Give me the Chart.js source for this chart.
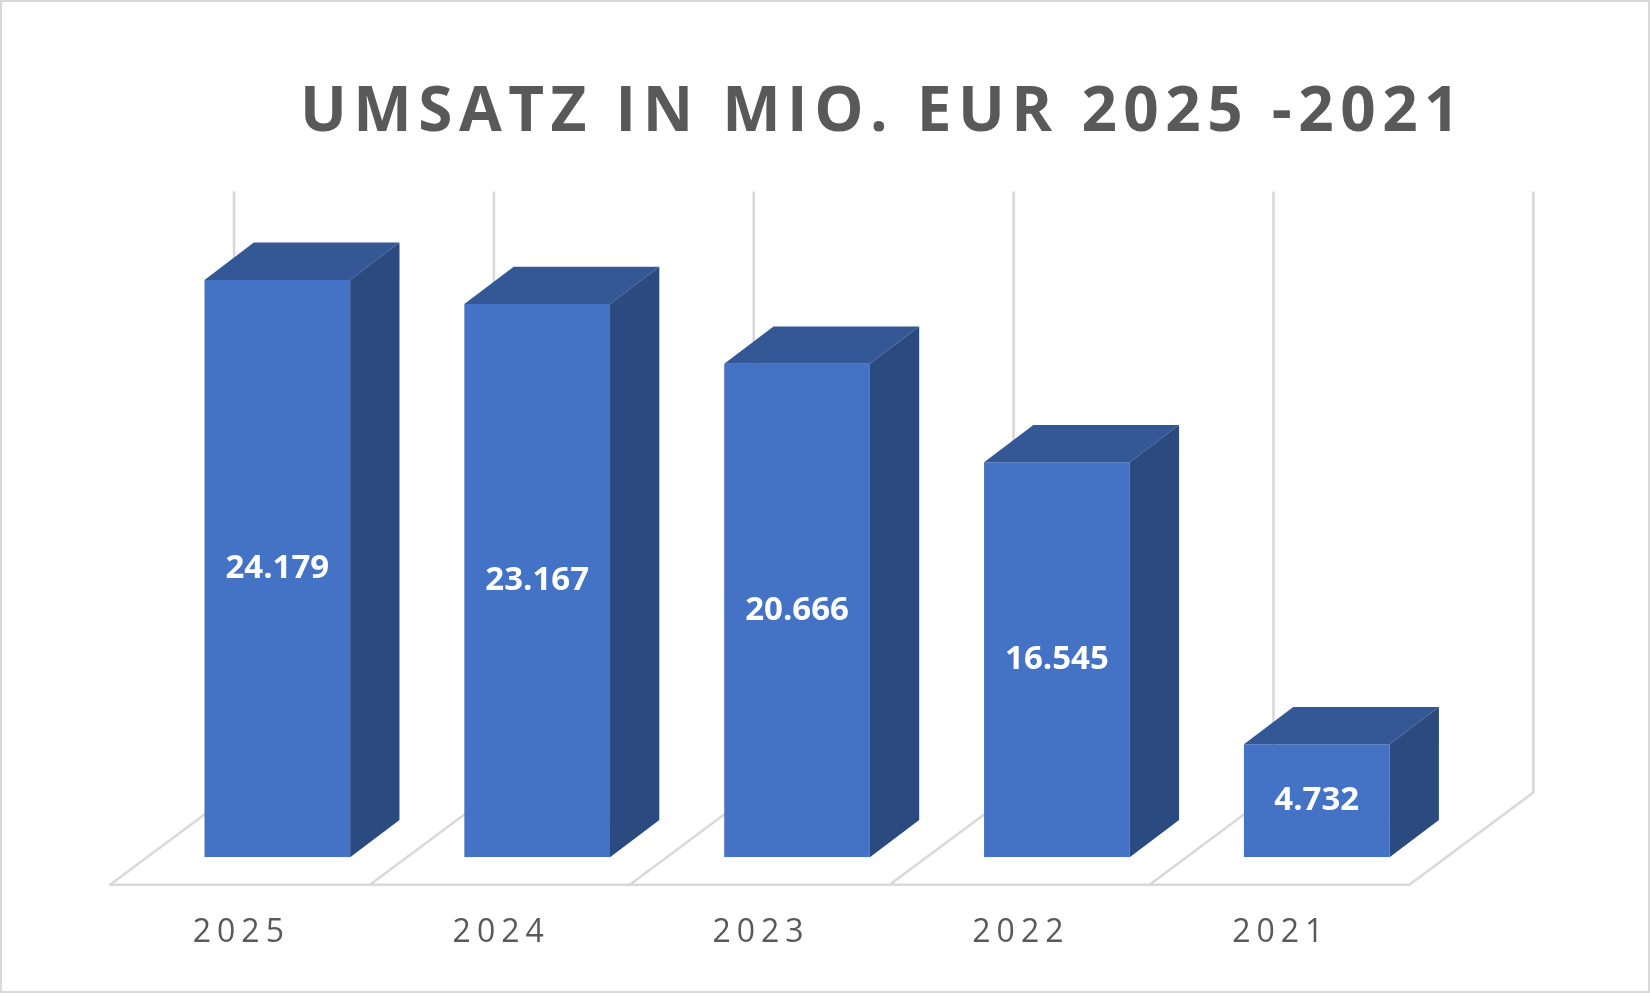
<!DOCTYPE html>
<html>
<head>
<meta charset="utf-8">
<title>Umsatz</title>
<script src="https://cdn.jsdelivr.net/npm/chart.js@4.4.1/dist/chart.umd.min.js"></script>
<style>
  html, body { margin: 0; padding: 0; background: #ffffff; }
  canvas { display: block; }
</style>
</head>
<body>
<canvas id="umsatzChart" width="1650" height="993"></canvas>
<script>
// chart data
var years = ["2025", "2024", "2023", "2022", "2021"];
var umsatz = [24.179, 23.167, 20.666, 16.545, 4.732];
var chartTitle = "UMSATZ IN MIO. EUR 2025 -2021";
var yMin = 0;
var yMax = 25;

// look of the fake 3d box (pixels)
var FLOOR_DX = 124, FLOOR_DY = -92.3;   // depth of the floor
var BAR_DX = 49.3, BAR_DY = -37.3;      // depth of one bar
var WALL_EXTRA = 3;
var LINE_COLOR = "#d9d9d9";
var TEXT_COLOR = "#595959";
var TITLE_CX = 883;

var depth3d = {
    id: "depth3d",
    afterLayout: function(chart) {
        // move the title a bit to the right like in excel
        var t = chart.titleBlock;
        if (t) {
            t.left = TITLE_CX - 800;
            t.right = TITLE_CX + 800;
        }
    },
    beforeDraw: function(chart) {
        var ctx = chart.ctx;
        ctx.save();
        ctx.strokeStyle = LINE_COLOR;
        ctx.lineWidth = 2;
        ctx.strokeRect(1, 1, chart.width - 2, chart.height - 2);
        ctx.restore();
        ctx.letterSpacing = "6.5px"; // title
    },
    beforeDatasetsDraw: function(chart) {
        var ctx = chart.ctx;
        var xs = chart.scales.x, ys = chart.scales.y;
        var n = chart.data.labels.length;
        var cw = (xs.right - xs.left) / n;
        var sx = (FLOOR_DX - BAR_DX) / 2, sy = (FLOOR_DY - BAR_DY) / 2;
        var fx0 = xs.left - sx;
        var fy = ys.getPixelForValue(yMin) - sy;
        var backTop = ys.getPixelForValue(yMax) - sy + FLOOR_DY - WALL_EXTRA;

        ctx.save();
        ctx.letterSpacing = "0px";
        ctx.strokeStyle = LINE_COLOR;
        ctx.lineWidth = 2.6;
        ctx.lineJoin = "round";
        ctx.lineCap = "round";
        ctx.beginPath();
        for (var k = 0; k <= n; k++) {
            var x = fx0 + k * cw;
            // floor diagonal
            ctx.moveTo(x, fy);
            ctx.lineTo(x + FLOOR_DX, fy + FLOOR_DY);
            // back wall
            ctx.lineTo(x + FLOOR_DX, backTop);
        }
        ctx.moveTo(fx0, fy);
        ctx.lineTo(fx0 + n * cw, fy);
        ctx.stroke();
        ctx.restore();
    },
    afterDatasetsDraw: function(chart) {
        var ctx = chart.ctx;
        var meta = chart.getDatasetMeta(0);
        ctx.save();
        ctx.letterSpacing = "0px";
        for (var i = 0; i < meta.data.length; i++) {
            var bar = meta.data[i];
            var left = bar.x - bar.width / 2, right = bar.x + bar.width / 2;
            var top = bar.y, base = bar.base;

            // top face
            ctx.fillStyle = "#335895";
            ctx.beginPath();
            ctx.moveTo(left, top);
            ctx.lineTo(left + BAR_DX, top + BAR_DY);
            ctx.lineTo(right + BAR_DX, top + BAR_DY);
            ctx.lineTo(right, top);
            ctx.closePath();
            ctx.fill();

            // side face
            ctx.fillStyle = "#2b4a7f";
            ctx.beginPath();
            ctx.moveTo(right, top);
            ctx.lineTo(right + BAR_DX, top + BAR_DY);
            ctx.lineTo(right + BAR_DX, base + BAR_DY);
            ctx.lineTo(right, base);
            ctx.closePath();
            ctx.fill();

            // value label
            ctx.fillStyle = "#ffffff";
            ctx.font = "bold 33px 'Open Sans'";
            ctx.textAlign = "center";
            ctx.textBaseline = "middle";
            ctx.fillText(umsatz[i].toFixed(3), bar.x, (top + base) / 2);
        }
        ctx.restore();
        ctx.letterSpacing = "6px"; // category labels (drawn after datasets, z:1)
    },
    afterDraw: function(chart) {
        chart.ctx.letterSpacing = "0px";
    }
};

var ctx = document.getElementById("umsatzChart").getContext("2d");
var umsatzChart = new Chart(ctx, {
    type: "bar",
    data: {
        labels: years,
        datasets: [{
            label: "Umsatz",
            data: umsatz,
            backgroundColor: "#4472c4",
            borderWidth: 0,
            barPercentage: 0.5606,
            categoryPercentage: 1
        }]
    },
    options: {
        responsive: false,
        animation: false,
        devicePixelRatio: 1,
        layout: {
            padding: { left: 147.4, right: 203.3, top: 20, bottom: 40.8 }
        },
        plugins: {
            legend: { display: false },
            tooltip: { enabled: false },
            title: {
                display: true,
                text: chartTitle,
                color: TEXT_COLOR,
                font: { family: "Open Sans", size: 62, weight: "bold" },
                padding: { top: 56.1, bottom: 109.8 }
            }
        },
        scales: {
            x: {
                grid: { display: true, color: "rgba(0,0,0,0)", drawTicks: true, tickLength: 56.5 },
                border: { display: false },
                ticks: {
                    color: TEXT_COLOR,
                    font: { family: "Open Sans", size: 32 },
                    padding: 0,
                    labelOffset: -36,
                    maxRotation: 0,
                    autoSkip: false,
                    z: 1
                }
            },
            y: {
                display: false,
                min: yMin,
                max: yMax
            }
        }
    },
    plugins: [depth3d]
});
</script>
</body>
</html>
